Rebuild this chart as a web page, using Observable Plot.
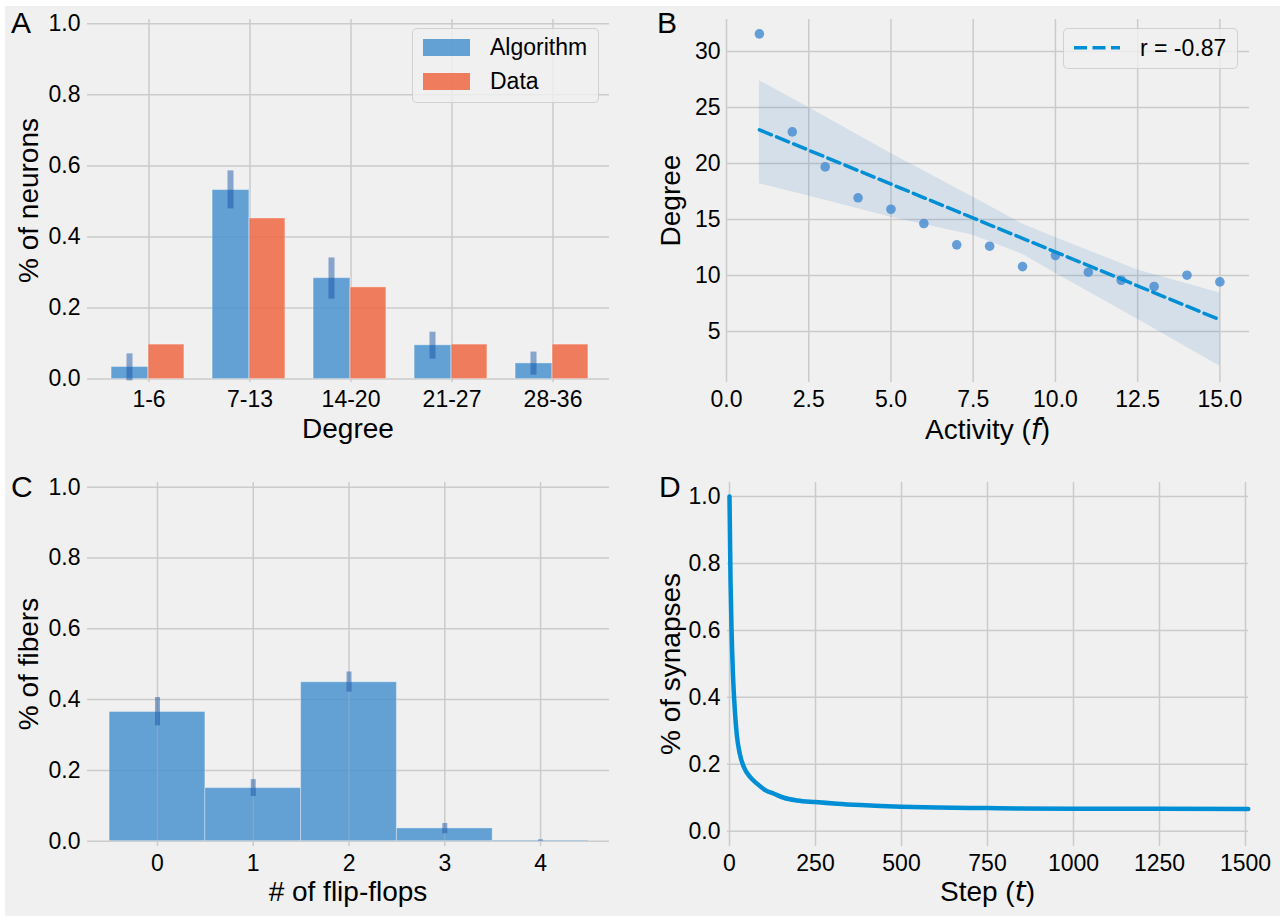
<!DOCTYPE html>
<html><head><meta charset="utf-8">
<script src="https://cdn.jsdelivr.net/npm/d3@7"></script>
<script src="https://cdn.jsdelivr.net/npm/@observablehq/plot@0.6"></script>
<style>
html,body{margin:0;padding:0;background:#fff;}
#fig{position:relative;width:1280px;height:916px;overflow:hidden;font-family:"Liberation Sans",Arial,sans-serif;color:#000;}
#bg{position:absolute;left:5px;top:6px;right:0;bottom:0;background:#f0f0f0;}
.panel{position:absolute;}
.panel svg{overflow:visible;}
.legend{position:absolute;background:rgba(240,240,240,0.8);border:1px solid rgba(200,200,200,0.8);border-radius:5px;box-sizing:border-box;font-size:23px;}
.legend .row{position:absolute;display:flex;align-items:center;}
</style></head>
<body><div id="fig"><div id="bg"></div></div>
<script>
// ---------- data ----------
// Panel A
const degreeBins = ["1-6", "7-13", "14-20", "21-27", "28-36"];
const algorithmPct = [0.034, 0.532, 0.284, 0.095, 0.044];
const algorithmLo  = [-0.005, 0.479, 0.225, 0.056, 0.011];
const algorithmHi  = [0.071, 0.586, 0.341, 0.132, 0.076];
const dataPct      = [0.097, 0.452, 0.258, 0.097, 0.097];
const pctTicks     = [0, 0.2, 0.4, 0.6, 0.8, 1.0];
// Panel B
const activity   = [1, 2, 3, 4, 5, 6, 7, 8, 9, 10, 11, 12, 13, 14, 15];
const meanDegree = [31.58, 22.83, 19.70, 16.94, 15.92, 14.64, 12.74, 12.62, 10.80, 11.79, 10.30, 9.58, 9.02, 10.03, 9.43];
const ciX    = [1, 2.5, 5, 7.5, 9, 10, 12.5, 15];
const ciLow  = [18.2, 17.1, 15.2, 13.6, 11.9, 10.2, 6.1, 1.9];
const ciHigh = [27.4, 25.0, 20.9, 17.0, 14.6, 13.4, 10.5, 8.45];
const activityTicks = [0, 2.5, 5, 7.5, 10, 12.5, 15];
const degreeTicks   = [5, 10, 15, 20, 25, 30];
const rLabel = "r = -0.87";
// Panel C
const flipFlops = [0, 1, 2, 3, 4];
const fiberPct  = [0.365, 0.150, 0.449, 0.036, 0.002];
const fiberLo   = [0.326, 0.126, 0.421, 0.021, 0.0];
const fiberHi   = [0.406, 0.174, 0.478, 0.050, 0.004];
// Panel D
const steps      = [0, 3, 6, 10, 15, 21, 30, 42, 61, 80, 105, 129, 158, 197, 249, 313, 381, 499, 604, 749, 846, 1000, 1250, 1508];
const synapsePct = [1.0, 0.75, 0.60, 0.47, 0.37, 0.29, 0.231, 0.191, 0.161, 0.142, 0.122, 0.112, 0.100, 0.092, 0.087, 0.082, 0.078, 0.073, 0.0705, 0.069, 0.068, 0.0672, 0.0668, 0.0665];
const stepTicks  = [0, 250, 500, 750, 1000, 1250, 1500];

// ---------- style ----------
const FONT = '"Liberation Sans", Arial, sans-serif';
const MATH = '"DejaVu Sans", sans-serif';
const GRID = "#cbcbcb";
const BLUE = "#4a92cf", ORANGE = "#f06744", ERR = "#124ea3", LINE = "#008fd5";
const TICK = 23, LABEL = 28, LETTER = 30;
const fig = document.getElementById("fig");
const f1 = d3.format(".1f");

function baseStyle() {
  return {background: "transparent", fontFamily: FONT, fontSize: TICK + "px", color: "#000", overflow: "visible"};
}
function place(svg, left, top) {
  const d = document.createElement("div");
  d.className = "panel"; d.style.left = left + "px"; d.style.top = top + "px";
  d.appendChild(svg); fig.appendChild(d);
}
function addText(svg, x, y, parts, size, rotate) {
  const t = d3.select(svg).append("text")
    .attr("font-family", FONT).attr("font-size", size).attr("fill", "#000")
    .attr("text-anchor", rotate === undefined ? "middle" : rotate.anchor || "middle");
  if (rotate && rotate.deg) t.attr("transform", `translate(${x},${y}) rotate(${rotate.deg})`);
  else t.attr("x", x).attr("y", y);
  for (const [s, it] of parts) {
    const sp = t.append("tspan").text(s);
    if (it) sp.attr("font-style", "italic").attr("font-family", MATH);
  }
  return t;
}
function letter(svg, x, y, s) {
  addText(svg, x, y, [[s, false]], LETTER, {anchor: "start"});
}
const gridOpts = {stroke: GRID, strokeOpacity: 1, strokeWidth: 1.5};

// ---------- Panel A ----------
const tableA = degreeBins.map((b, i) => ({bin: b, alg: algorithmPct[i], lo: algorithmLo[i], hi: algorithmHi[i], data: dataPct[i]}));
const rangeA = [97, 603];
const half = (rangeA[1] - rangeA[0]) / degreeBins.length / 2;
const A = Plot.plot({
  width: 640, height: 458,
  marginLeft: 87, marginRight: 31, marginTop: 19, marginBottom: 76,
  style: baseStyle(),
  x: {type: "band", domain: degreeBins, range: rangeA, padding: 0},
  y: {domain: [-0.0096, 1.012]},
  marks: [
    Plot.gridY(pctTicks, gridOpts),
    Plot.gridX(degreeBins, gridOpts),
    Plot.barY(tableA, {x: "bin", y: "alg", fill: BLUE, fillOpacity: 0.85, stroke: "#fff", strokeOpacity: 0.35, strokeWidth: 1,
      insetLeft: half - 37.5, insetRight: half + 0.5}),
    Plot.barY(tableA, {x: "bin", y: "data", fill: ORANGE, fillOpacity: 0.85, stroke: "#fff", strokeOpacity: 0.35, strokeWidth: 1,
      insetLeft: half - 0.5, insetRight: half - 35.5}),
    Plot.ruleX(tableA, {x: "bin", y1: "lo", y2: "hi", dx: -19.5, stroke: ERR, strokeWidth: 6, strokeOpacity: 0.47}),
    Plot.axisX({tickSize: 0, tickPadding: 8.5, label: null, fontSize: TICK}),
    Plot.axisY(pctTicks, {tickSize: 0, tickPadding: 7, tickFormat: f1, label: null, fontSize: TICK})
  ]
});
addText(A, 348, 438, [["Degree", false]], LABEL);
addText(A, 38, 200.5, [["% of neurons", false]], LABEL, {deg: -90});
letter(A, 11, 33, "A");
place(A, 0, 0);

// legend A
const legA = document.createElement("div");
legA.className = "legend";
Object.assign(legA.style, {left: "412px", top: "28px", width: "187px", height: "75px"});
legA.innerHTML = `
  <div class="row" style="left:10px;top:10px;height:17px;">
    <div style="width:47px;height:17px;background:${BLUE};opacity:0.85;"></div>
    <span style="margin-left:20px;line-height:17px;">Algorithm</span></div>
  <div class="row" style="left:10px;top:44px;height:17px;">
    <div style="width:47px;height:17px;background:${ORANGE};opacity:0.85;"></div>
    <span style="margin-left:20px;line-height:17px;">Data</span></div>`;
fig.appendChild(legA);

// ---------- Panel B ----------
const tableB = activity.map((a, i) => ({a, d: meanDegree[i]}));
const bandB = ciX.map((x, i) => ({x, lo: ciLow[i], hi: ciHigh[i]}));
const B = Plot.plot({
  width: 640, height: 458,
  marginLeft: 86, marginRight: 31, marginTop: 19, marginBottom: 76,
  style: baseStyle(),
  x: {domain: [0, 15.9]},
  y: {domain: [0.45, 32.86]},
  marks: [
    Plot.gridY(degreeTicks, gridOpts),
    Plot.gridX(activityTicks, gridOpts),
    Plot.areaY(bandB, {x: "x", y1: "lo", y2: "hi", fill: "#3f7fc4", fillOpacity: 0.15, clip: true}),
    Plot.dot(tableB, {x: "a", y: "d", r: 4.8, fill: "#4b8fd2", fillOpacity: 0.85}),
    Plot.linearRegressionY(tableB, {x: "a", y: "d", ci: 0, stroke: LINE, strokeWidth: 3.5, strokeDasharray: "13,5.5"}),
    Plot.axisX(activityTicks, {tickSize: 0, tickPadding: 8.5, tickFormat: f1, label: null, fontSize: TICK}),
    Plot.axisY(degreeTicks, {tickSize: 0, tickPadding: 6, label: null, fontSize: TICK})
  ]
});
addText(B, 347.5, 439, [["Activity (", false], ["f", true], [")", false]], LABEL);
addText(B, 40, 200.5, [["Degree", false]], LABEL, {deg: -90});
letter(B, 17, 33, "B");
place(B, 640, 0);

// legend B
const legB = document.createElement("div");
legB.className = "legend";
Object.assign(legB.style, {left: "1063px", top: "28px", width: "175px", height: "41px"});
legB.innerHTML = `
  <svg width="60" height="41" style="position:absolute;left:0;top:0">
    <line x1="10" x2="56" y1="18.7" y2="18.7" stroke="${LINE}" stroke-width="3.5" stroke-dasharray="13,5.5"/></svg>
  <span style="position:absolute;left:76px;top:6px;line-height:26px;">${rLabel}</span>`;
fig.appendChild(legB);

// ---------- Panel C ----------
const tableC = flipFlops.map((k, i) => ({k, p: fiberPct[i], lo: fiberLo[i], hi: fiberHi[i]}));
const C = Plot.plot({
  width: 640, height: 458,
  marginLeft: 87, marginRight: 31, marginTop: 24, marginBottom: 70,
  style: baseStyle(),
  x: {domain: [-0.731, 4.72]},
  y: {domain: [-0.015, 1.0133]},
  marks: [
    Plot.gridY(pctTicks, gridOpts),
    Plot.gridX(flipFlops, gridOpts),
    Plot.rectY(tableC, {x1: d => d.k - 0.5, x2: d => d.k + 0.5, y: "p", fill: BLUE, fillOpacity: 0.85, stroke: "#fff", strokeOpacity: 0.35, strokeWidth: 1}),
    Plot.gridX(flipFlops.slice(0, 4), {stroke: GRID, strokeOpacity: 0.3, strokeWidth: 1.5, y1: 0, y2: d => fiberPct[d]}),
    Plot.ruleX(tableC, {x: "k", y1: "lo", y2: "hi", stroke: ERR, strokeWidth: 5, strokeOpacity: 0.47}),
    Plot.axisX(flipFlops, {tickSize: 0, tickPadding: 8.5, label: null, fontSize: TICK}),
    Plot.axisY(pctTicks, {tickSize: 0, tickPadding: 7, tickFormat: f1, label: null, fontSize: TICK})
  ]
});
addText(C, 348, 443, [["# of flip-flops", false]], LABEL);
addText(C, 38, 206, [["% of fibers", false]], LABEL, {deg: -90});
letter(C, 11, 39, "C");
place(C, 0, 458);

// ---------- Panel D ----------
const tableD = steps.map((s, i) => ({s, p: synapsePct[i]}));
const D = Plot.plot({
  width: 640, height: 458,
  marginLeft: 87, marginRight: 32, marginTop: 24, marginBottom: 70,
  style: baseStyle(),
  x: {domain: [-5.8, 1508.7]},
  y: {domain: [-0.0457, 1.0418]},
  marks: [
    Plot.gridY(pctTicks, gridOpts),
    Plot.gridX(stepTicks, gridOpts),
    Plot.line(tableD, {x: "s", y: "p", stroke: LINE, strokeWidth: 4.5, curve: "monotone-x"}),
    Plot.axisX(stepTicks, {tickSize: 0, tickPadding: 8.5, label: null, fontSize: TICK, tickFormat: d3.format("d")}),
    Plot.axisY(pctTicks, {tickSize: 0, tickPadding: 7, tickFormat: f1, label: null, fontSize: TICK})
  ]
});
addText(D, 347.5, 443, [["Step (", false], ["t", true], [")", false]], LABEL);
addText(D, 40, 206, [["% of synapses", false]], LABEL, {deg: -90});
letter(D, 19, 39, "D");
place(D, 640, 458);
</script>
</body></html>
